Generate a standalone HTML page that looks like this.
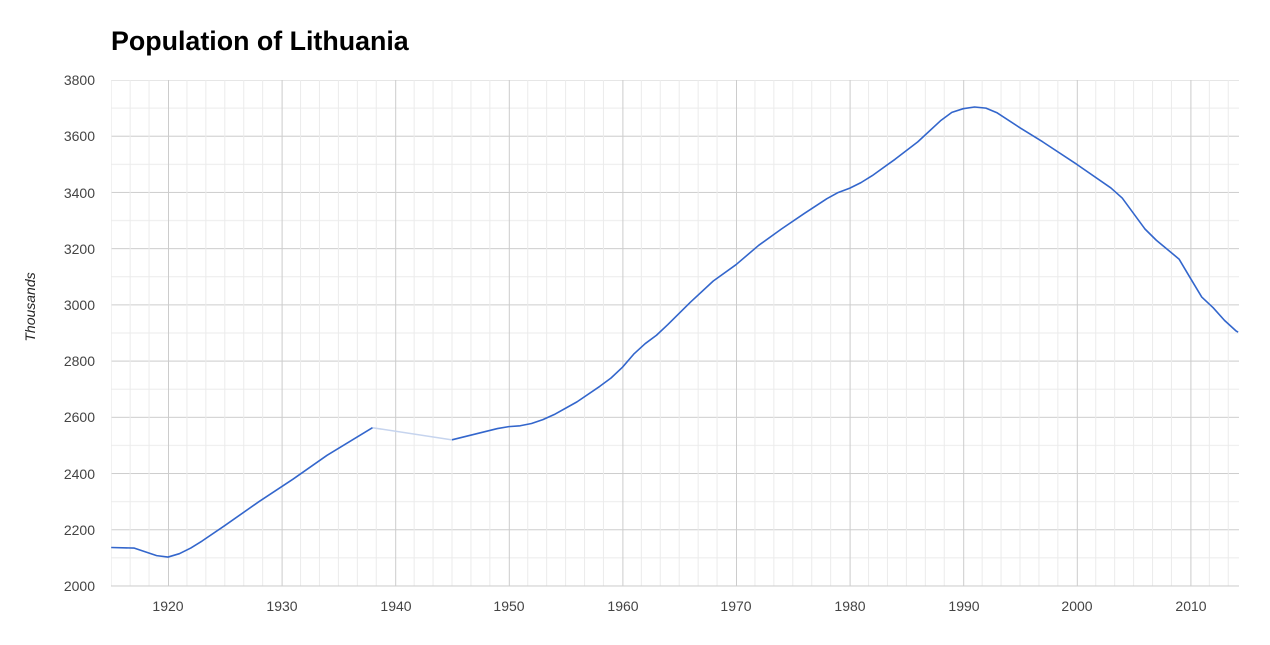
<!DOCTYPE html>
<html><head><meta charset="utf-8"><style>body{margin:0;background:#fff}</style></head>
<body>
<svg width="1270" height="640" xmlns="http://www.w3.org/2000/svg" font-family="Liberation Sans, Arial, sans-serif">
<defs>
<pattern id="gv" patternUnits="userSpaceOnUse" x="168" y="0" width="113.6" height="10">
<rect x="18.43" width="1" height="10" fill="#ebebeb"/><rect x="37.37" width="1" height="10" fill="#ebebeb"/><rect x="56.3" width="1" height="10" fill="#ebebeb"/><rect x="75.23" width="1" height="10" fill="#ebebeb"/><rect x="94.17" width="1" height="10" fill="#ebebeb"/>
<rect x="0" width="1" height="10" fill="#cccccc"/>
</pattern>
<pattern id="gh" patternUnits="userSpaceOnUse" x="0" y="79.5" width="10" height="56.22">
<rect y="28.11" width="10" height="1" fill="#ebebeb"/>
<rect y="0" width="10" height="1" fill="#cccccc"/>
</pattern>
</defs>
<text x="111" y="50" font-size="26.8" font-weight="bold" fill="#000">Population of Lithuania</text>
<rect x="111" y="80" width="1128" height="506" fill="url(#gh)"/>
<rect x="111" y="80" width="1128" height="506" fill="url(#gv)"/>
<rect x="111" y="585.5" width="1128" height="1" fill="#ccc"/>
<g font-size="14" fill="#444" text-anchor="end">
<text x="95" y="85">3800</text><text x="95" y="141">3600</text><text x="95" y="198">3400</text><text x="95" y="254">3200</text><text x="95" y="310">3000</text><text x="95" y="366">2800</text><text x="95" y="422">2600</text><text x="95" y="479">2400</text><text x="95" y="535">2200</text><text x="95" y="591">2000</text>
</g>
<g font-size="14" fill="#444" text-anchor="middle">
<text x="168" y="611">1920</text><text x="282" y="611">1930</text><text x="396" y="611">1940</text><text x="509" y="611">1950</text><text x="623" y="611">1960</text><text x="736" y="611">1970</text><text x="850" y="611">1980</text><text x="964" y="611">1990</text><text x="1077" y="611">2000</text><text x="1191" y="611">2010</text>
</g>
<text transform="translate(35,307) rotate(-90)" font-size="14" font-style="italic" fill="#222" text-anchor="middle">Thousands</text>
<g transform="matrix(11.36,0,0,-0.2811,-21643.2,1148.2)" fill="none" stroke-linejoin="round">
<polyline vector-effect="non-scaling-stroke" stroke="#c6d4ee" stroke-width="1.5" points="1938,2563 1945,2520"/>
<polyline vector-effect="non-scaling-stroke" stroke="#3366cc" stroke-width="1.6" points="1915,2137 1917,2135 1919,2108 1920,2103 1921,2115 1922,2135 1923,2160 1925,2215 1928,2300 1931,2380 1934,2465 1938,2563"/>
<polyline vector-effect="non-scaling-stroke" stroke="#3366cc" stroke-width="1.6" points="1945,2520 1949,2560 1950,2567 1951,2570 1952,2578 1953,2592 1954,2610 1956,2655 1958,2710 1959,2740 1960,2778 1961,2825 1962,2862 1963,2892 1964,2930 1966,3010 1968,3085 1970,3143 1972,3212 1974,3270 1976,3325 1978,3378 1979,3400 1980,3415 1981,3435 1982,3460 1984,3518 1986,3580 1988,3655 1989,3685 1990,3698 1991,3704 1992,3700 1993,3683 1995,3630 1997,3580 2000,3500 2003,3416 2004,3380 2006,3270 2007,3230 2009,3163 2010,3095 2011,3028 2012,2990 2013,2945 2014,2908 2014.2,2903"/>
</g>
</svg>
</body></html>
